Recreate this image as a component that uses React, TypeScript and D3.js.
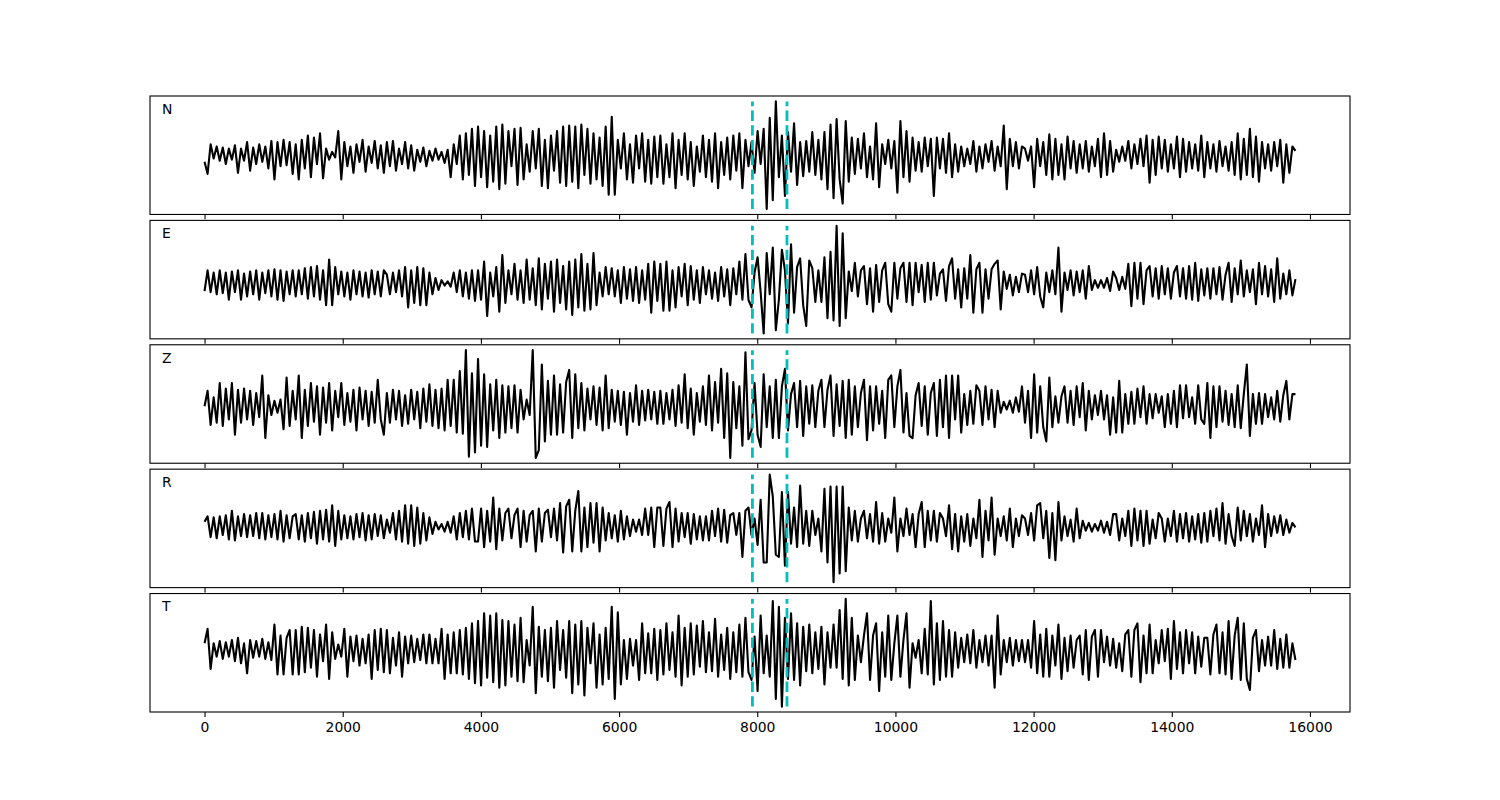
import React, { useEffect, useRef } from 'react';
import * as d3 from 'd3';

const components = ['N', 'E', 'Z', 'R', 'T'];
const duration = 15790;
const picks = [7930, 8430];
const xTicks = [0, 2000, 4000, 6000, 8000, 10000, 12000, 14000, 16000];

const traceN = [
  -6, -17, 10, -3, 8, -5, 7, -8, 6, -4, 9, -16, 6, -5, 12, -14, 7, -8, 10, -6, 8, -12, 13, -22, 12, -10, 14, -9, 12, -17,
  10, -22, 14, -12, 18, -20, 16, -8, 20, -21, 6, -4, 3, -2, 22, -22, 12, -10, 8, -16, 10, -6, 14, -15, 8, -7, 13, -12, 9, -16,
  12, -10, 13, -14, 6, -8, 12, -12, 9, -14, 5, -6, 7, -10, 4, -5, 6, -4, 3, -7, 5, -20, 10, -8, 18, -22, 20, -18, 24, -28,
  26, -20, 22, -29, 18, -24, 26, -31, 28, -26, 22, -10, 24, -27, 25, -22, 10, -15, 22, -12, 24, -28, 14, -30, 18, -14, 22, -25, 26, -28,
  27, -24, 26, -30, 28, -18, 24, -26, 20, -22, 16, -28, 26, -36, 35, -36, 14, -12, 20, -22, 10, -25, 18, -12, 20, -24, 14, -26, 17, -20,
  18, -26, 10, -20, 20, -30, 14, -18, 20, -22, 12, -28, 8, -15, 18, -20, 14, -24, 20, -30, 12, -18, 16, -22, 18, -14, 20, -30, 14, -10,
  12, -16, 22, -8, 24, -49, 34, -41, 49, -20, 18, -37, 21, -15, 29, -27, 12, -19, 13, -15, 21, -18, 14, -22, 21, -31, 28, -39, 33, -22,
  -44, 31, -24, 16, -17, 15, -12, 20, -20, 8, -22, 29, -29, 10, -8, 14, -12, 13, -34, 31, -20, 22, -24, 16, -14, 12, -15, 16, -10, 15,
  -37, 16, -12, 15, -16, 20, -20, 10, -15, 8, -10, 6, -8, 13, -15, 8, -12, 10, -6, 13, -14, 8, -10, 27, -31, 15, -10, 12, -12, 8,
  6, -5, 8, -29, 15, -10, 12, -18, 19, -22, 15, -18, 10, -22, 17, -12, 13, -16, 10, -12, 13, -15, 8, -10, 15, -20, 20, -18, 13, -15,
  5, -6, 8, -5, 13, -12, 10, -8, 15, -10, 18, -25, 14, -18, 17, -12, 14, -15, 10, -12, 17, -20, 15, -15, 12, -12, 10, -14, 18, -20,
  12, -12, 10, -15, 13, -10, 8, -14, 12, -18, 20, -22, 15, -18, 24, -20, 17, -24, 12, -12, 10, -14, 12, -10, 14, -25, 10, -16, 8, 4,
];

const traceE = [
  -7, 12, -8, 10, -10, 12, -9, 10, -15, 11, -8, 12, -15, 9, -12, 11, -10, 12, -15, 10, -9, 12, -12, 13, -15, 12, -16, 11, -10, 12,
  -12, 12, -10, 14, -14, 15, -12, 16, -15, 12, -20, 22, -20, 15, -10, 11, -12, 10, -15, 12, -10, 11, -12, 10, -13, 12, -10, 11, -12, 12,
  8, -10, 10, -8, 12, -12, 15, -22, 12, -18, 15, -20, 14, -20, 10, -10, 5, -6, 3, -2, 2, -3, 10, -8, 12, -12, 10, -14, 12, -16,
  12, -15, 20, -30, 10, -12, 15, -26, 26, -18, 12, -10, 18, -15, 12, -18, 22, -15, 14, -20, 23, -24, 18, -14, 20, -26, 22, -18, 16, -24,
  20, -29, 22, -22, 27, -25, 18, -24, 28, -20, 10, -12, 15, -10, 14, -12, 12, -18, 15, -14, 13, -16, 15, -18, 12, -15, 18, -27, 20, -16,
  18, -25, 20, -25, 12, -22, 15, -12, 18, -20, 16, -15, 12, -18, 15, -10, 12, -14, 10, -16, 15, -12, 13, -20, 14, -10, 20, -15, 27, -15,
  -22, 10, 24, -8, -46, 28, -10, 33, -43, -15, 31, 12, -37, 36, -27, 15, 23, -20, -39, 21, 14, -17, 12, -17, 24, -32, 29, -34, 53, -39,
  46, -32, 11, -7, 19, -12, 12, 16, -19, 14, -26, 17, -17, 12, 19, -19, -26, 19, -14, 14, 19, -17, 19, -20, 19, -8, 17, -17, 19, -15,
  19, -11, 9, 13, -16, 16, 23, -14, 13, -22, 14, -14, 26, -27, 13, 19, -27, 13, -14, 13, 18, 21, -24, 11, -5, 8, -11, 6, -8, 9,
  8, -8, 12, -10, 15, -12, -22, 10, -8, 12, -10, 33, -26, 10, -6, 12, -11, 11, -8, 12, -14, 16, -6, 3, -4, 3, -4, 5, -7, 11,
  5, -6, 6, -5, 18, -21, 19, -14, 19, -19, 12, 16, -12, 14, -14, 16, -10, 14, -14, 10, 16, -12, 14, -14, 16, -15, 19, -16, 13, -11,
  14, -14, 14, -10, 15, -15, 8, 19, -17, 14, -10, 21, -12, 12, -8, 13, -19, 19, -10, 16, -12, 13, -17, 23, -14, 9, -10, 12, -11, 4,
];

const traceZ = [
  0, 14, -17, 8, -15, 21, -18, 16, -12, 21, -26, 15, -15, 16, -12, 14, -17, 12, -10, 28, -29, 10, -8, 5, -6, 6, -21, 26, -18, 14,
  -12, 28, -29, 15, -18, 21, -14, 18, -26, 17, -15, 21, -22, 14, -10, 21, -17, 12, -14, 15, -22, 17, -12, 14, -18, 13, -15, 24, -12, -26,
  12, -15, 15, -12, 14, -18, 10, -16, 15, -12, 13, -20, 16, -14, 20, -18, 15, -20, 16, -22, 24, -18, 24, -24, 32, -25, 51, -46, 30, -42,
  43, -36, 29, -37, 20, -22, 24, -29, 19, -24, 18, -20, 19, -24, 15, -12, 6, -8, 51, -47, -40, 38, -32, 23, -26, 28, -26, 20, -24, 22,
  33, -29, 29, -20, 21, -22, 16, -12, 18, -17, 17, -22, 28, -20, 15, -14, 14, -17, 13, -26, 12, -14, 19, -17, 14, -13, 15, -12, 13, -16,
  14, -16, 12, -12, 15, -18, 19, -15, 29, -20, 16, -26, 12, -14, 18, -17, 28, -22, 22, -15, 34, -29, 30, -47, 22, -20, 18, -36, 49, -30,
  -22, 21, -26, -37, 29, -19, 18, -29, 24, -29, 18, 34, -22, 11, 21, -19, 23, -27, 18, -16, 19, -19, 14, 24, -19, 15, 28, -27, 20, -18,
  23, -29, 24, -26, 18, -19, 12, 24, -31, 18, -22, 18, -16, 14, -29, 24, 28, -19, 18, 33, -24, 12, -27, -29, 10, 21, -18, 18, -26, 12,
  21, -27, 24, -19, 28, -29, 28, -12, 28, -24, 11, -17, 14, -16, 19, 14, -17, 18, -12, 15, -19, 14, -6, 4, -3, 5, -6, 8, -5, 18,
  -15, 14, -29, 29, -24, 18, -19, -32, 26, -19, 9, -15, 9, 18, -15, 14, -17, 18, -10, 21, -22, 14, -12, 10, -8, 14, -12, 10, -26, 8,
  -24, 23, -24, 11, -16, 13, -16, 16, -10, 18, -16, 11, -11, 11, -6, 9, -19, 11, -16, 14, -19, 19, -11, 19, -10, 8, -16, 19, -12, -16,
  21, -29, 18, -19, 18, -14, 14, -17, 11, -19, 19, -20, 11, 38, -27, 11, -16, 12, -16, 11, -10, 8, -12, 14, -14, 10, 23, -12, 11, 11,
];

const traceR = [
  4, 9, -10, 8, -11, 9, -8, 10, -12, 14, -13, 9, -9, 11, -10, 10, -9, 12, -11, 12, -12, 10, -10, 11, -12, 14, -14, 10, -11, 9,
  11, -12, 10, -14, 12, -11, 13, -16, 14, -12, 15, -14, 19, -18, 14, -12, 10, -11, 9, -12, 11, -10, 12, -13, 10, -12, 11, -9, 10, -11,
  6, -6, 12, -12, 14, -14, 19, -16, 19, -18, 17, -16, 12, -13, 8, -7, 4, -3, 2, -5, 4, -6, 9, -12, 12, -10, 14, -12, 16, -14,
  -14, 16, -19, 14, -14, 26, -21, 16, -13, 12, 16, -11, 10, 16, -19, 14, -14, 10, 14, -23, 16, -14, 12, 15, -10, 16, -13, 21, -24, 18,
  24, -23, 14, 32, -23, 17, -19, 21, -15, 21, -23, 17, -13, 12, -11, 10, -14, 14, -12, 9, -9, 6, -5, 6, -8, 16, -8, 17, -19, 17,
  17, -18, 16, 22, -19, 16, -14, 12, -10, 12, -16, 11, -12, 9, -13, 9, -13, 14, -9, 16, -14, 15, -15, 10, 12, -8, 12, -28, 14, 17,
  -8, 7, -17, 24, -33, -33, 47, 27, -26, -28, 31, -36, 31, -16, 17, -19, 37, -16, 14, -18, 14, -8, 7, -23, 34, -33, 36, -51, 36, -43,
  36, -41, 17, -13, 14, -14, 7, 14, -11, 11, -14, 22, -16, 12, -14, 7, -6, 26, -23, 7, -9, 16, -8, 11, -19, 11, 22, -19, 14, -13,
  14, -14, 12, 7, -9, 19, -21, 11, -23, 9, -14, 11, -18, 7, -11, 24, -28, 14, -13, 26, -26, 7, -9, 9, -13, 16, -19, 7, -9, 10,
  7, -8, 12, -13, 19, 21, -11, 14, -29, 12, -31, 22, -13, 9, -9, 6, -14, 16, -11, 5, -4, 3, -5, 2, -4, 5, -6, 4, -8, 11,
  11, -13, 7, -9, 14, -18, 16, -13, 14, -18, 14, -16, 6, -11, 12, 7, -14, 7, -9, 14, -14, 11, -11, 12, -14, 9, -12, 11, -15, 12,
  -14, 14, -9, 16, -13, 21, -16, 11, -9, -18, 17, -13, 14, -9, 11, -14, 7, -8, 19, -19, 11, -9, 9, -6, 10, -8, 6, -6, 3, -1,
];

const traceT = [
  6, 19, -17, 6, -6, 8, -8, 7, -6, 9, -10, 11, -12, 6, -21, 9, -7, 8, -6, 10, -8, 7, -9, 23, -22, 13, -22, 11, 18, -22,
  18, -22, 21, -20, 20, -16, 18, -24, 14, -10, 23, -26, 16, -8, 5, -6, 19, -24, 12, -10, 13, -14, 10, -12, 14, -26, 18, -18, 19, -20,
  18, -21, 11, -14, 16, -24, 12, -12, 13, -11, 10, -9, 14, -12, 14, -12, 10, -12, 19, -26, 14, -21, 16, -21, 18, -22, 20, -26, 24, -30,
  26, -32, 33, -25, 31, -29, 33, -34, 27, -32, 26, -24, 23, -28, 29, -29, 9, -14, 39, -39, 21, -24, 18, -28, 20, -34, 26, -18, 18, -25,
  26, -39, 23, -31, 26, -41, 20, -12, 24, -34, 14, -31, 20, -26, 39, -44, 34, -31, 9, -26, 10, -14, 9, -27, 24, -21, 15, -21, 19, -27,
  18, -22, 24, -18, 16, -24, 31, -32, 20, -24, 24, -22, 22, -15, 26, -20, 16, -19, 28, -24, 14, -18, 20, -26, 16, -20, 23, -24, 29, -20,
  -27, 12, -37, 31, -21, 13, -24, 44, -44, 39, -51, 29, -26, 33, -27, 24, -32, 21, -19, 23, -21, 16, -17, 21, -31, 16, -16, 23, -16, 36,
  -26, 46, -32, 29, -27, 13, -11, 13, 33, -27, 13, 24, -37, 16, -24, 31, -27, 6, 31, -24, 9, 33, -34, 6, -7, 9, -21, 19, -22, 44,
  -31, 24, -27, 26, -24, 18, -24, 16, -16, 11, -11, 14, -12, 18, -16, 9, -11, 13, -14, 13, -34, 31, -22, 9, -11, 11, -14, 9, -10, 9,
  -11, 9, -16, 26, -21, 14, -24, 19, -24, 13, -14, 23, -26, 11, -19, 13, -16, 9, 13, -22, 18, -27, 12, 18, -24, 18, -11, 12, -14, 10,
  -16, 6, -19, 14, 18, -24, 18, 24, -29, 13, -21, 23, -21, 9, -12, 18, -10, 19, -26, 26, -17, 16, -21, 18, -12, 16, -21, 12, -15, 11,
  11, -22, 14, 23, -21, 16, -22, 26, -26, 13, 29, -27, 24, -26, -36, 11, 18, -19, 9, -14, 12, -14, 18, -17, 10, -16, 14, -16, 6, -9,
];

const traces = [traceN, traceE, traceZ, traceR, traceT];

const App = () => {
  const svgRef = useRef<SVGSVGElement>(null);

  useEffect(() => {
    const svg = d3.select(svgRef.current);
    svg.selectAll('*').remove();

    const width = 1500;
    const height = 800;
    const margin = { top: 96, right: 150, bottom: 88, left: 150 };
    const innerHeight = height - margin.top - margin.bottom;
    const hspace = 0.05;
    const panelH = innerHeight / (traces.length + (traces.length - 1) * hspace);
    const font = '"DejaVu Sans", sans-serif';

    const x = d3.scaleLinear()
      .domain([-0.05 * duration, 1.05 * duration])
      .range([margin.left, width - margin.right]);

    traces.forEach((trace, k) => {
      const top = margin.top + k * panelH * (1 + hspace);
      const bottom = top + panelH;
      const step = duration / (trace.length - 1);

      const [lo, hi] = d3.extent(trace) as [number, number];
      const pad = (hi - lo) * 0.05;
      const y = d3.scaleLinear().domain([lo - pad, hi + pad]).range([bottom, top]);

      const g = svg.append('g');

      const line = d3.line<number>()
        .x((d, i) => x(i * step))
        .y(d => y(d));

      g.append('path')
        .datum(trace)
        .attr('fill', 'none')
        .attr('stroke', '#000')
        .attr('stroke-width', 2.1)
        .attr('stroke-linejoin', 'round')
        .attr('d', line);

      // picks
      picks.forEach(p => {
        g.append('line')
          .attr('x1', x(p)).attr('x2', x(p))
          .attr('y1', y(lo)).attr('y2', y(hi))
          .attr('stroke', '#00bfbf')
          .attr('stroke-width', 2.8)
          .attr('stroke-dasharray', '10.3,4.4');
      });

      // frame
      g.append('rect')
        .attr('x', margin.left)
        .attr('y', top)
        .attr('width', width - margin.left - margin.right)
        .attr('height', panelH)
        .attr('fill', 'none')
        .attr('stroke', '#000')
        .attr('stroke-width', 1.1);

      const last = k === traces.length - 1;
      const axis = g.append('g')
        .attr('transform', `translate(0,${bottom})`)
        .call(d3.axisBottom(x)
          .tickValues(xTicks)
          .tickSize(4.9)
          .tickPadding(4.9)
          .tickFormat(last ? (d => String(d)) : () => ''));
      axis.select('.domain').remove();
      axis.selectAll('line').attr('stroke-width', 1.1);
      axis.selectAll('text')
        .attr('font-family', font)
        .attr('font-size', 13.9)
        .attr('fill', '#000');

      g.append('text')
        .attr('x', margin.left + 0.01 * (width - margin.left - margin.right))
        .attr('y', top + 0.15 * panelH)
        .attr('font-family', font)
        .attr('font-size', 13.9)
        .text(components[k]);
    });
  }, []);

  return (
    <svg
      ref={svgRef}
      width={1500}
      height={800}
      style={{ position: 'absolute', left: 0, top: 0, background: '#fff' }}
    />
  );
};

export default App;
